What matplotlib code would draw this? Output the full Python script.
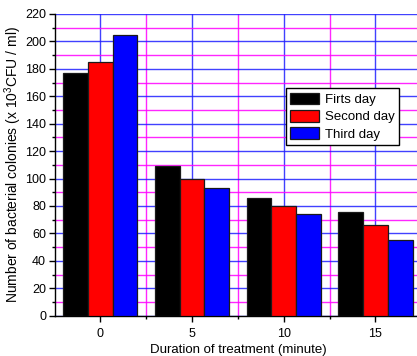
import matplotlib
matplotlib.use('Agg')
import matplotlib.pyplot as plt
import numpy as np

plt.rcParams['font.family'] = ['Liberation Sans', 'DejaVu Sans']
plt.rcParams['mathtext.fontset'] = 'custom'
plt.rcParams['mathtext.rm'] = 'Liberation Sans'
plt.rcParams['mathtext.it'] = 'Liberation Sans'

# data
durations = [0, 5, 10, 15]
day_labels = ['Firts day', 'Second day', 'Third day']
first_day = [177, 109, 86, 75.5]
second_day = [185, 99.5, 80, 66]
third_day = [204.5, 93, 74.5, 55]
bar_colors = ['black', 'red', 'blue']

fig = plt.figure(figsize=(4.17, 3.56), dpi=100)
W, H = 417, 356
ax = fig.add_axes([54.5 / W, 1 - 315.7 / H, 366.8 / W, (315.7 - 14) / H])

width = 1.35
x = np.array(durations, dtype=float)
series = [first_day, second_day, third_day]
for i, (vals, col, lab) in enumerate(zip(series, bar_colors, day_labels)):
    ax.bar(x + (i - 1) * width, vals, width=width, color=col,
           edgecolor='#1a1a1a', linewidth=0.9, label=lab, zorder=3)

ax.set_xlim(-2.5, 17.5)
ax.set_ylim(0, 220)
ax.set_xticks(durations)
ax.set_xticks([2.5, 7.5, 12.5, 17.5], minor=True)
ax.set_yticks(np.arange(0, 221, 20))
ax.set_yticks(np.arange(10, 220, 20), minor=True)

ax.grid(which='major', color='#2020ff', linewidth=1.0, alpha=0.85, zorder=0)
ax.grid(which='minor', color='#ff00ff', linewidth=1.0, alpha=0.85, zorder=0)
ax.set_axisbelow(True)

for s in ['top', 'right']:
    ax.spines[s].set_visible(False)
ax.spines['left'].set_linewidth(1.0)
ax.spines['bottom'].set_linewidth(1.0)

ax.tick_params(which='major', direction='out', length=4, width=1, labelsize=9, pad=2)
ax.tick_params(axis='x', which='major', pad=5)
ax.tick_params(which='minor', direction='out', length=2.5, width=1)

ax.set_xlabel('Duration of treatment (minute)', fontsize=9.5, labelpad=3)
ax.set_ylabel('Number of bacterial colonies (x 10$^{3}$CFU / ml)', fontsize=10)
# centre of the y label sits about 18 px from the figure's left edge
ax.yaxis.set_label_coords(-(54.5 - 24) / 366.8, 0.5)

ax.legend(loc='upper left', bbox_to_anchor=(285.7 / W, 1 - 88 / H),
          bbox_transform=fig.transFigure, fancybox=False, edgecolor='black',
          framealpha=1, fontsize=9.5, handlelength=2.2, handleheight=1.0,
          borderpad=0.35, labelspacing=0.3, handletextpad=0.4, borderaxespad=0)

fig.savefig('out.png', dpi=100)
